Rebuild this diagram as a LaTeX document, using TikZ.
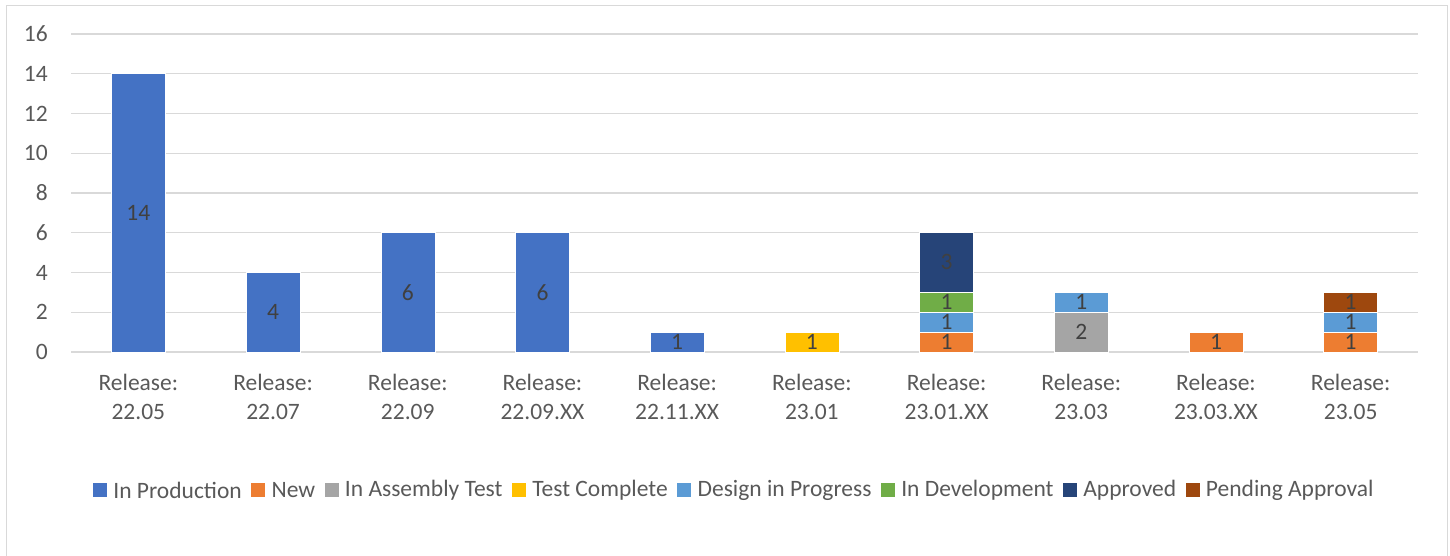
\documentclass[tikz,border=0pt]{standalone}
\usepackage{fontspec}
\setmainfont{Carlito}
\usetikzlibrary{positioning}
\definecolor{cProd}{HTML}{4472C4}
\definecolor{cNew}{HTML}{ED7D31}
\definecolor{cAsm}{HTML}{A5A5A5}
\definecolor{cTest}{HTML}{FFC000}
\definecolor{cDes}{HTML}{5B9BD5}
\definecolor{cDev}{HTML}{70AD47}
\definecolor{cAppr}{HTML}{264478}
\definecolor{cPend}{HTML}{9E480E}
\definecolor{txt}{HTML}{595959}
\definecolor{lbl}{HTML}{404040}
\definecolor{grid}{HTML}{D9D9D9}
\tikzset{
  every node/.style={font=\fontsize{23.5}{28}\selectfont, text=txt},
  gridline/.style={draw=grid, line width=1.3pt},
  bar/.style={rectangle, draw=white, line width=0.4pt, minimum width=54pt, inner sep=0pt, anchor=south, text=lbl},
  cat/.style={align=center, font=\fontsize{23.5}{29.5}\selectfont},
  ytick/.style={anchor=east, inner sep=0pt},
  sq/.style={rectangle, minimum size=14pt, inner sep=0pt},
  lt/.style={inner xsep=0pt, inner ysep=2pt}
}
\begin{document}
\begin{tikzpicture}[x=1pt, y=-1pt]
\useasboundingbox (0,0) rectangle (1450,556);
\draw[draw=grid, line width=1.3pt] (6.5,5.5) rectangle (1447.5,560);
% gridlines and ticks
\foreach \v/\n in {0/g0,2/g2,4/g4,6/g6,8/g8,10/g10,12/g12,14/g14,16/g16}{
  \coordinate (\n l) at (71,{352-\v*19.875});
  \coordinate (\n r) at (1418,{352-\v*19.875});
  \draw[gridline] (\n l) -- (\n r);
  \node[ytick] (\n t) at (48,{352-\v*19.875}) {\v};
}
% bars: unit height 19.875
\def\u{19.875}
\node[bar, fill=cProd, minimum height=14*\u pt] (b1a) at (138.35,352) {14};
\node[bar, fill=cProd, minimum height=4*\u pt] (b2a) at (273.05,352) {4};
\node[bar, fill=cProd, minimum height=6*\u pt] (b3a) at (407.75,352) {6};
\node[bar, fill=cProd, minimum height=6*\u pt] (b4a) at (542.45,352) {6};
\node[bar, fill=cProd, minimum height=1*\u pt] (b5a) at (677.15,352) {1};
\node[bar, fill=cTest, minimum height=1*\u pt] (b6a) at (811.85,352) {1};
\node[bar, fill=cNew, minimum height=1*\u pt] (b7a) at (946.55,352) {1};
\node[bar, fill=cDes, minimum height=1*\u pt] (b7b) at (946.55,{352-1*\u}) {1};
\node[bar, fill=cDev, minimum height=1*\u pt] (b7c) at (946.55,{352-2*\u}) {1};
\node[bar, fill=cAppr, minimum height=3*\u pt] (b7d) at (946.55,{352-3*\u}) {3};
\node[bar, fill=cAsm, minimum height=2*\u pt] (b8a) at (1081.25,352) {2};
\node[bar, fill=cDes, minimum height=1*\u pt] (b8b) at (1081.25,{352-2*\u}) {1};
\node[bar, fill=cNew, minimum height=1*\u pt] (b9a) at (1215.95,352) {1};
\node[bar, fill=cNew, minimum height=1*\u pt] (b10a) at (1350.65,352) {1};
\node[bar, fill=cDes, minimum height=1*\u pt] (b10b) at (1350.65,{352-1*\u}) {1};
\node[bar, fill=cPend, minimum height=1*\u pt] (b10c) at (1350.65,{352-2*\u}) {1};
% categories
\node[cat] (c1) at (138.35,397) {Release:\\22.05};
\node[cat] (c2) at (273.05,397) {Release:\\22.07};
\node[cat] (c3) at (407.75,397) {Release:\\22.09};
\node[cat] (c4) at (542.45,397) {Release:\\22.09.XX};
\node[cat] (c5) at (677.15,397) {Release:\\22.11.XX};
\node[cat] (c6) at (811.85,397) {Release:\\23.01};
\node[cat] (c7) at (946.55,397) {Release:\\23.01.XX};
\node[cat] (c8) at (1081.25,397) {Release:\\23.03};
\node[cat] (c9) at (1215.95,397) {Release:\\23.03.XX};
\node[cat] (c10) at (1350.65,397) {Release:\\23.05};
% legend
\node[sq, fill=cProd] (l1) at (100,490) {};
\node[lt, right=6pt of l1] (t1) {In Production};
\node[sq, fill=cNew, right=9pt of t1] (l2) {};
\node[lt, right=6pt of l2] (t2) {New};
\node[sq, fill=cAsm, right=9pt of t2] (l3) {};
\node[lt, right=6pt of l3] (t3) {In Assembly Test};
\node[sq, fill=cTest, right=9pt of t3] (l4) {};
\node[lt, right=6pt of l4] (t4) {Test Complete};
\node[sq, fill=cDes, right=9pt of t4] (l5) {};
\node[lt, right=6pt of l5] (t5) {Design in Progress};
\node[sq, fill=cDev, right=9pt of t5] (l6) {};
\node[lt, right=6pt of l6] (t6) {In Development};
\node[sq, fill=cAppr, right=9pt of t6] (l7) {};
\node[lt, right=6pt of l7] (t7) {Approved};
\node[sq, fill=cPend, right=9pt of t7] (l8) {};
\node[lt, right=6pt of l8] (t8) {Pending Approval};
\end{tikzpicture}
\end{document}
